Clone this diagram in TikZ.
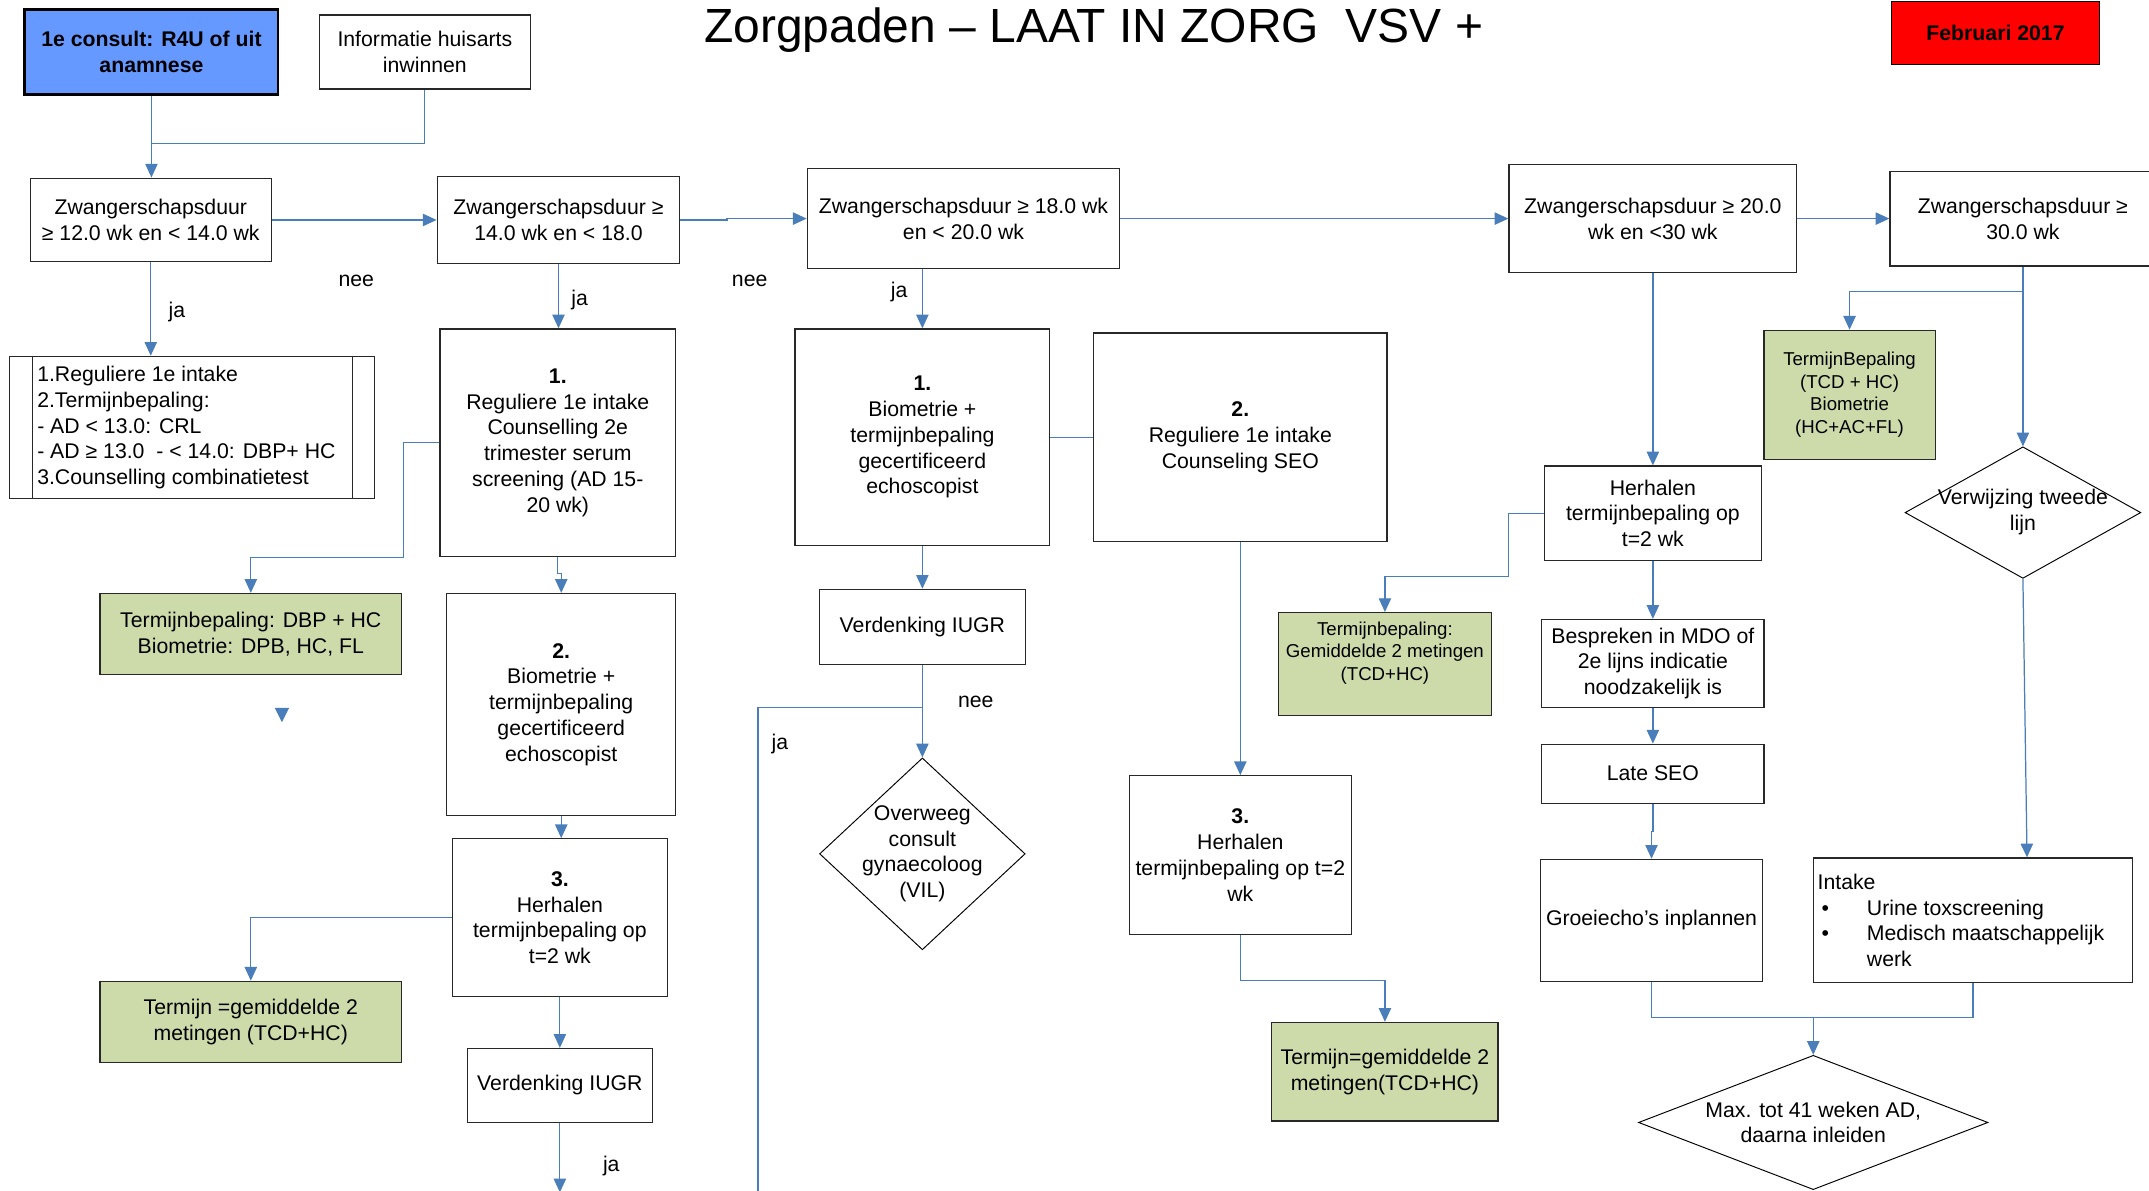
\documentclass[tikz,border=0pt]{standalone}
\usepackage{fontspec}
\setmainfont{Liberation Sans}
\usetikzlibrary{arrows.meta,shapes.geometric}
\definecolor{linkblue}{RGB}{74,126,187}
\definecolor{boxgreen}{RGB}{205,219,170}
\definecolor{consultblue}{RGB}{102,153,255}
\definecolor{febred}{RGB}{255,0,0}
\definecolor{boxline}{RGB}{40,40,40}
\newcommand\bodyfs{\fontsize{15.5}{18.8}\selectfont}
\newcommand\smallfs{\fontsize{13.6}{16.5}\selectfont}
\begin{document}
\begin{tikzpicture}[x=1pt,y=-1pt,
  box/.style={draw=boxline, line width=0.9pt, fill=white, align=center, inner sep=0pt, font=\bodyfs, text=black},
  gbox/.style={box, fill=boxgreen},
  diam/.style={draw=black, line width=0.7pt, shape=diamond, inner sep=0pt, fill=white},
  txt/.style={align=center, inner sep=0pt, font=\bodyfs},
  conn/.style={draw=linkblue, line width=0.9pt},
  arr/.style={conn, -{Triangle[length=10pt,width=9pt]}},
  lbl/.style={inner sep=0pt, font=\bodyfs}]
\fill[white] (0,0) rectangle (1568,869);
\useasboundingbox (0,0) rectangle (1568,869);

% title and header boxes
\node[inner sep=0pt, font=\fontsize{35}{40}\selectfont] (title) at (798,22) {Zorgpaden – LAAT IN ZORG\ \ VSV +};
\node[box, minimum width=185pt, minimum height=62pt, fill=consultblue, draw=black, line width=1.8pt, font=\bodyfs\bfseries] (c1e) at (110.5,38) {1e consult: R4U of uit\\anamnese};
\node[box, minimum width=154pt, minimum height=54pt] (info) at (310,38) {Informatie huisarts\\inwinnen};
\node[box, minimum width=152pt, minimum height=46pt, fill=febred, draw=black, font=\bodyfs\bfseries] (feb) at (1456,24) {Februari 2017};

% top row
\node[box, minimum width=176pt, minimum height=61pt] (zw1) at (110,160.5) {Zwangerschapsduur\\≥ 12.0 wk en < 14.0 wk};
\node[box, minimum width=177pt, minimum height=63pt] (zw2) at (407.5,160.5) {Zwangerschapsduur ≥\\14.0 wk en < 18.0};
\node[box, minimum width=228pt, minimum height=73pt] (zw3) at (703,159.5) {Zwangerschapsduur ≥ 18.0 wk\\en < 20.0 wk};
\node[box, minimum width=210pt, minimum height=79pt] (zw4) at (1206,159.5) {Zwangerschapsduur ≥ 20.0\\wk en <30 wk};
\node[box, minimum width=194pt, minimum height=69pt] (zw5) at (1476,159.5) {Zwangerschapsduur ≥\\30.0 wk};

% column 1
\node[box, minimum width=266pt, minimum height=104pt] (l1) at (140,312) {};
\draw[boxline, line width=0.9pt] ([xshift=17pt]l1.north west) -- ([xshift=17pt]l1.south west);
\draw[boxline, line width=0.9pt] ([xshift=-16pt]l1.north east) -- ([xshift=-16pt]l1.south east);
\node[txt, align=left, anchor=west] (l1t) at (27,312) {1.Reguliere 1e intake\\2.Termijnbepaling:\\- AD < 13.0: CRL\\- AD ≥ 13.0\ \ - < 14.0: DBP+ HC\\3.Counselling combinatietest};
\node[gbox, minimum width=220pt, minimum height=59pt] (g1) at (183,462.5) {Termijnbepaling: DBP + HC\\Biometrie: DPB, HC, FL};
\node[gbox, minimum width=220pt, minimum height=59pt] (g2) at (183,745.5) {Termijn =gemiddelde 2\\metingen (TCD+HC)};

% column 2
\node[box, minimum width=172pt, minimum height=166pt] (a1) at (407,323) {\textbf{1.}\\Reguliere 1e intake\\Counselling 2e\\trimester serum\\screening (AD 15-\\20 wk)};
\node[box, minimum width=167pt, minimum height=162pt] (a2) at (409.5,514) {\textbf{2.}\\Biometrie +\\termijnbepaling\\gecertificeerd\\echoscopist};
\node[box, minimum width=157pt, minimum height=115pt] (a3) at (408.5,669.5) {\textbf{3.}\\Herhalen\\termijnbepaling op\\t=2 wk};
\node[box, minimum width=135pt, minimum height=54pt] (v1) at (408.5,792) {Verdenking IUGR};
\coordinate (v1end) at (408.5,870);

% column 3
\node[box, minimum width=186pt, minimum height=158pt] (b1) at (673,319) {\textbf{1.}\\Biometrie +\\termijnbepaling\\gecertificeerd\\echoscopist};
\node[box, minimum width=214pt, minimum height=152pt] (b2) at (905,319) {\textbf{2.}\\Reguliere 1e intake\\Counseling SEO};
\node[box, minimum width=150pt, minimum height=55pt] (v2) at (673,457.5) {Verdenking IUGR};
\node[diam, minimum width=150pt, minimum height=140pt] (d1) at (673,623) {};
\node[txt] (d1t) at (673,623) {Overweeg\\consult\\gynaecoloog\\(VIL)};
\coordinate (jaend) at (553,872);
\node[box, minimum width=162pt, minimum height=116pt] (b3) at (905,624) {\textbf{3.}\\Herhalen\\termijnbepaling op t=2\\wk};
\node[gbox, minimum width=165pt, minimum height=72pt] (g4) at (1010.5,782) {Termijn=gemiddelde 2\\metingen(TCD+HC)};
\node[gbox, minimum width=155pt, minimum height=75pt] (g3) at (1010.5,484.5) {};
\node[txt, font=\smallfs] (g3t) at (1010.5,476.5) {Termijnbepaling:\\Gemiddelde 2 metingen\\(TCD+HC)};

% column 4
\node[box, minimum width=158pt, minimum height=69pt] (c1) at (1206,374.5) {Herhalen\\termijnbepaling op\\t=2 wk};
\node[box, minimum width=162pt, minimum height=64pt] (c2) at (1206,484) {Bespreken in MDO of\\2e lijns indicatie\\noodzakelijk is};
\node[box, minimum width=162pt, minimum height=43pt] (c3) at (1206,564.5) {Late SEO};
\node[box, minimum width=162pt, minimum height=89pt] (c4) at (1205,671.5) {Groeiecho’s inplannen};

% column 5
\node[gbox, minimum width=125pt, minimum height=94pt, font=\smallfs] (g5) at (1349.5,288) {TermijnBepaling\\(TCD + HC)\\Biometrie\\(HC+AC+FL)};
\node[diam, minimum width=172pt, minimum height=96pt] (d2) at (1476,374) {};
\node[txt] (d2t) at (1476,373.5) {Verwijzing tweede\\lijn};
\node[box, minimum width=233pt, minimum height=91pt] (intake) at (1439.5,671.5) {};
\node[txt, align=left, anchor=west] (intaket) at (1326,671.5) {Intake\\\makebox[36pt][l]{\hspace{3pt}•}Urine toxscreening\\\makebox[36pt][l]{\hspace{3pt}•}Medisch maatschappelijk\\\hspace*{36pt}werk};
\node[diam, minimum width=255pt, minimum height=98pt] (d3) at (1323,819) {};
\node[txt] (d3t) at (1323,819) {Max. tot 41 weken AD,\\daarna inleiden};

% labels
\node[lbl] (nee1) at (260,205) {nee};
\node[lbl] (nee2) at (547,205) {nee};
\node[lbl] (ja1) at (129,228) {ja};
\node[lbl] (ja2) at (423,219) {ja};
\node[lbl] (ja3) at (656,213) {ja};
\node[lbl] (ja4) at (446,851) {ja};
\node[lbl] (nee3) at (712,512) {nee};
\node[lbl] (ja5) at (569,543) {ja};

% connectors
\draw[arr] (c1e.south) -- (c1e.south |- zw1.north);
\draw[conn] (info.south) |- ([yshift=25pt]zw1.north);
\draw[arr] (zw1.east) -- (zw2.west);
\draw[arr] (zw2.east) -- ++(34,0) |- (zw3.west);
\draw[arr] (zw3.east) -- (zw4.west);
\draw[arr] (zw4.east) -- (zw5.west);
\draw[arr] (zw1.south) -- (zw1.south |- l1.north);
\draw[arr] (zw2.south) -- (zw2.south |- a1.north);
\draw[arr] (a1.west) -- ++(-26,0) |- ([yshift=26pt]g1.north) -- (g1.north);
\draw[arr] (a1.south) -- ++(0,12) -| (a2.north);
\draw[arr] (a2.south) -- (a2.south |- a3.north);
\draw[arr] (a3.west) -| (g2.north);
\draw[arr] (a3.south) -- (a3.south |- v1.north);
\draw[arr] (v1.south) -- (v1end);
\draw[arr] (zw3.south -| b1.north) -- (b1.north);
\draw[conn] (b1.east) -- (b2.west);
\draw[arr] (b1.south) -- (v2.north);
\draw[arr] (v2.south) -- (d1.north);
\draw[conn] (v2.south) ++(0,31) -| (jaend);
\draw[arr] (b2.south) -- (b3.north);
\draw[arr] (b3.south) -- ++(0,33) -| (g4.north);
\draw[arr] (zw4.south) -- (c1.north);
\draw[arr] (c1.west) -- ++(-26,0) |- ([yshift=26pt]g3.north) -- (g3.north);
\draw[arr] (c1.south) -- (c2.north);
\draw[arr] (c2.south) -- (c3.north);
\draw[arr] (c3.south) -- ++(0,20) -| (c4.north);
\draw[conn] (c4.south) |- ([yshift=27pt]d3.north);
\draw[conn] (intake.south) |- ([yshift=27pt]d3.north);
\draw[arr] ([yshift=27pt]d3.north) -- (d3.north);
\draw[arr] (zw5.south) -- ++(0,18) -| (g5.north);
\draw[arr] (zw5.south) -- (d2.north);
\draw[arr] (d2.south) -- ([xshift=39.5pt]intake.north);
% isolated arrowhead
\fill[linkblue] (200.5,516.5) -- (211,516.5) -- (205.7,527) -- cycle;
\end{tikzpicture}
\end{document}
